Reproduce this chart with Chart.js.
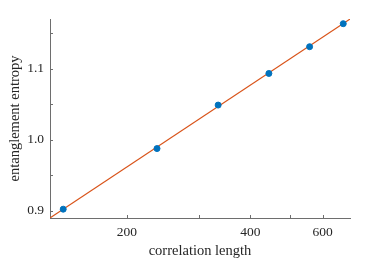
<!DOCTYPE html>
<html>
<head>
<meta charset="utf-8">
<script src="https://cdn.jsdelivr.net/npm/chart.js@4"></script>
<style>
  html, body { margin: 0; padding: 0; background: #fff; }
  #wrap { width: 386px; height: 258px; }
</style>
</head>
<body>
<div id="wrap"><canvas id="chart" width="386" height="258"></canvas></div>
<script>
// data
const corrLength = [140, 237, 334, 444, 558, 674];
const entropy = [0.9024, 0.9877, 1.0489, 1.0934, 1.131, 1.1634];
// fitted line, endpoints at the axis limits
const fitX = [130, 700];
const fitY = [0.890, 1.170];

const xTicks = [200, 300, 400, 500, 600];
const xLabels = ["200", "", "400", "", "600"];
const yTicks = [0.9, 0.95, 1.0, 1.05, 1.1, 1.15];
const yLabels = ["0.9", "", "1.0", "", "1.1", ""];

const FONT = "'Liberation Serif', serif";
const TEXT = "#262626";
const AXIS = "#6e6e6e";

// inward tick marks drawn from the scales
const innerTicks = {
  id: "innerTicks",
  afterDraw(chart) {
    const ctx = chart.ctx;
    const area = chart.chartArea;
    const xs = chart.scales.x, ys = chart.scales.y;
    ctx.save();
    ctx.strokeStyle = AXIS;
    ctx.lineWidth = 1;
    ctx.beginPath();
    xTicks.forEach(v => {
      const px = Math.round(xs.getPixelForValue(v)) + 0.5;
      ctx.moveTo(px, area.bottom);
      ctx.lineTo(px, area.bottom - 3);
    });
    yTicks.forEach(v => {
      const py = Math.round(ys.getPixelForValue(v)) + 0.5;
      ctx.moveTo(area.left, py);
      ctx.lineTo(area.left + 3, py);
    });
    ctx.stroke();
    ctx.restore();
  }
};

new Chart(document.getElementById("chart").getContext("2d"), {
  type: "scatter",
  data: {
    datasets: [
      {
        label: "fit",
        data: fitX.map((x, i) => ({ x, y: fitY[i] })),
        showLine: true,
        borderColor: "#D95319",
        borderWidth: 1.1,
        pointRadius: 0,
        order: 2
      },
      {
        label: "data",
        data: corrLength.map((x, i) => ({ x, y: entropy[i] })),
        backgroundColor: "#0072BD",
        borderColor: "#0072BD",
        pointRadius: 3,
        order: 1
      }
    ]
  },
  options: {
    responsive: false,
    animation: false,
    layout: { padding: { left: 0, top: 19, right: 36, bottom: 0 } },
    plugins: { legend: { display: false }, tooltip: { enabled: false } },
    scales: {
      x: {
        type: "logarithmic",
        min: 130, max: 700,
        afterBuildTicks: s => { s.ticks = xTicks.map(v => ({ value: v })); },
        afterFit: s => { s.height = 40; },
        ticks: {
          autoSkip: false, maxRotation: 0, padding: 6,
          color: TEXT, font: { family: FONT, size: 13.5 },
          callback: (v) => xLabels[xTicks.indexOf(v)] ?? ""
        },
        grid: { display: false, drawTicks: false },
        border: { color: AXIS, width: 1 },
        title: {
          display: true, text: "correlation length", color: TEXT,
          font: { family: FONT, size: 14.5, lineHeight: 1.0 }, padding: { top: 0, bottom: 0 }
        }
      },
      y: {
        min: 0.89, max: 1.17,
        afterBuildTicks: s => { s.ticks = yTicks.map(v => ({ value: v })); },
        afterFit: s => { s.width = 50; },
        ticks: {
          autoSkip: false, padding: 6,
          color: TEXT, font: { family: FONT, size: 13.5 },
          callback: (v) => {
            const i = yTicks.findIndex(t => Math.abs(t - v) < 1e-6);
            return i >= 0 ? yLabels[i] : "";
          }
        },
        grid: { display: false, drawTicks: false },
        border: { color: AXIS, width: 1 },
        title: {
          display: true, text: "entanglement entropy", color: TEXT,
          font: { family: FONT, size: 14.5 }, padding: { top: 6, bottom: 0 }
        }
      }
    }
  },
  plugins: [innerTicks]
});
</script>
</body>
</html>
